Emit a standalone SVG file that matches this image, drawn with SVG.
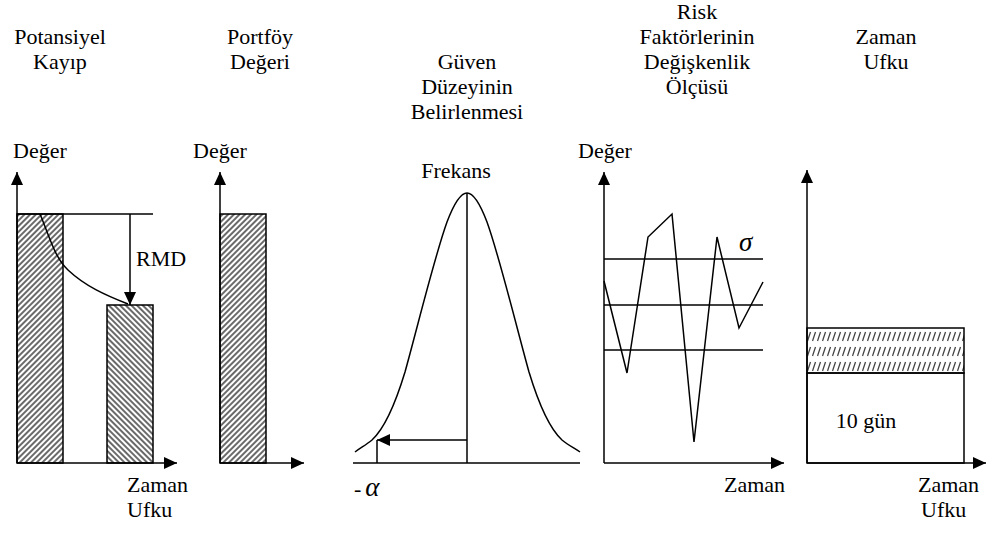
<svg xmlns="http://www.w3.org/2000/svg" width="993" height="535" viewBox="0 0 993 535">
<style>
  .t { font-family: "Liberation Serif", Tinos, "Times New Roman", "DejaVu Serif", serif; font-size: 22px; fill: #000; }
  .m { text-anchor: middle; }
  .ln { stroke: #000; stroke-width: 1.5; fill: none; }
  .bx { stroke: #000; stroke-width: 1.5; }
  .ax { stroke: #000; stroke-width: 1.5; fill: none; marker-end: url(#arr); }
  .gr { font-family: "Liberation Serif", Tinos, "DejaVu Serif", serif; font-style: italic; font-size: 27px; }
</style>
<defs>
  <marker id="arr" markerUnits="userSpaceOnUse" markerWidth="14" markerHeight="12" refX="13" refY="6" orient="auto">
    <path d="M0,0 L13,6 L0,12 Z" fill="#000"/>
  </marker>
  <pattern id="hatchA" width="4" height="4" patternUnits="userSpaceOnUse" patternTransform="rotate(45)">
    <line x1="1" y1="0" x2="1" y2="4" stroke="#444" stroke-width="1.6"/>
  </pattern>
  <pattern id="hatchB" width="4" height="4" patternUnits="userSpaceOnUse" patternTransform="rotate(-45)">
    <line x1="1" y1="0" x2="1" y2="4" stroke="#444" stroke-width="1.6"/>
  </pattern>
  <pattern id="dashes" x="807" y="329" width="5" height="15" patternUnits="userSpaceOnUse">
    <line x1="0.5" y1="12" x2="3.5" y2="3" stroke="#444" stroke-width="1.3"/>
  </pattern>
</defs>

<g id="panel-potansiyel-kayip">
  <text class="t m" x="60" y="44">Potansiyel</text>
  <text class="t m" x="60" y="69">Kayıp</text>
  <text class="t" x="13" y="158">Değer</text>
  <rect class="bx" x="17" y="214" width="46" height="249" fill="url(#hatchA)"/>
  <rect class="bx" x="107" y="305" width="46" height="158" fill="url(#hatchB)"/>
  <line class="ln" x1="17" y1="214" x2="153" y2="214"/>
  <path class="ln" d="M40,214 C50,238 55,258 68,270 C85,286 105,295 128,304"/>
  <text class="t" x="136" y="266">RMD</text>
  <line class="ax" x1="17" y1="463" x2="17" y2="172"/>
  <line class="ax" x1="17" y1="463" x2="177" y2="463"/>
  <text class="t" x="127" y="492">Zaman</text>
  <text class="t" x="127" y="517">Ufku</text>
</g>

<g id="panel-portfoy-degeri">
  <text class="t m" x="260" y="44">Portföy</text>
  <text class="t m" x="260" y="69">Değeri</text>
  <text class="t" x="193" y="158">Değer</text>
  <rect class="bx" x="220" y="214" width="46" height="249" fill="url(#hatchA)"/>
  <line class="ax" x1="220" y1="463" x2="220" y2="172"/>
  <line class="ax" x1="220" y1="463" x2="304" y2="463"/>
</g>

<g id="panel-guven-duzeyi">
  <text class="t m" x="467" y="69">Güven</text>
  <text class="t m" x="467" y="94">Düzeyinin</text>
  <text class="t m" x="467" y="119">Belirlenmesi</text>
  <text class="t m" x="456" y="178">Frekans</text>
  <path class="ln" d="M355,452 C360,448 366,445 372,440 C385,428 395,405 405,372 C418,325 435,255 447,222 C455,201 461,193 467,193 C473,193 479,201 487,222 C499,255 516,325 529,372 C539,405 549,428 562,440 C568,445 574,448 580,452"/>
  <line class="ln" x1="353" y1="463" x2="580" y2="463"/>
  <line class="ln" x1="467" y1="463" x2="467" y2="193"/>
  <line class="ax" x1="467" y1="440" x2="377" y2="440"/>
  <line class="ln" x1="377" y1="440" x2="377" y2="463"/>
  <text class="t" x="354" y="496">-<tspan class="gr" dx="4">α</tspan></text>
</g>

<g id="panel-risk-faktorleri">
  <text class="t m" x="697" y="19">Risk</text>
  <text class="t m" x="697" y="44">Faktörlerinin</text>
  <text class="t m" x="697" y="69">Değişkenlik</text>
  <text class="t m" x="697" y="94">Ölçüsü</text>
  <text class="t" x="578" y="158">Değer</text>
  <line class="ln" x1="604" y1="259" x2="763" y2="259"/>
  <line class="ln" x1="604" y1="305" x2="763" y2="305"/>
  <line class="ln" x1="604" y1="350" x2="763" y2="350"/>
  <polyline class="ln" points="604,281 627,373 648,237 672,214 694,442 717,237 739,328 763,282"/>
  <text class="gr" x="739" y="251">σ</text>
  <line class="ax" x1="604" y1="463" x2="604" y2="172"/>
  <line class="ax" x1="604" y1="463" x2="784" y2="463"/>
  <text class="t" x="724" y="492">Zaman</text>
</g>

<g id="panel-zaman-ufku">
  <text class="t m" x="886" y="44">Zaman</text>
  <text class="t m" x="886" y="69">Ufku</text>
  <rect class="bx" x="807" y="328" width="157" height="45" fill="url(#dashes)"/>
  <rect class="bx" x="807" y="373" width="157" height="90" fill="none"/>
  <text class="t m" x="866" y="428">10 gün</text>
  <line class="ax" x1="807" y1="463" x2="807" y2="170"/>
  <line class="ax" x1="807" y1="463" x2="986" y2="463"/>
  <text class="t" x="918" y="492">Zaman</text>
  <text class="t" x="921" y="517">Ufku</text>
</g>

<g id="connectors">
  <line class="ax" x1="130" y1="214" x2="130" y2="305"/>
</g>
</svg>
